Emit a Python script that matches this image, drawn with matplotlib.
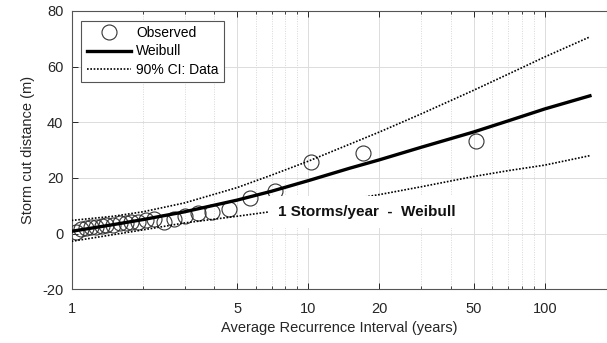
import numpy as np
import matplotlib
matplotlib.use('Agg')
import matplotlib.pyplot as plt
from matplotlib.ticker import FixedLocator, NullFormatter

plt.rcParams['font.family'] = ['Liberation Sans', 'DejaVu Sans']
plt.rcParams['axes.unicode_minus'] = False

# observed storm cut (recurrence interval in years, distance in m)
obs_T = [1.04, 1.10, 1.15, 1.21, 1.27, 1.34, 1.40, 1.50, 1.60, 1.69, 1.79, 1.91,
         2.07, 2.22, 2.46, 2.70, 3.0, 3.42, 3.92, 4.62, 5.66, 7.27, 10.3, 17.0, 51.0]
obs_y = [0.7, 1.5, 1.9, 2.3, 2.5, 2.7, 3.0, 3.1, 3.7, 3.9, 4.1, 4.1,
         4.9, 5.1, 4.3, 5.1, 6.3, 7.5, 7.6, 8.7, 12.8, 15.2, 25.6, 28.9, 33.1]

# fitted Weibull curve
fit_T = [1, 1.5, 2, 3, 5, 7, 10, 15, 20, 30, 50, 70, 100, 155]
fit_y = [0.8, 3.2, 5.0, 7.8, 12.0, 15.2, 19.0, 23.5, 26.5, 31.0, 36.5, 40.5, 44.8, 49.5]

# 90% confidence interval
ci_T = [1, 1.5, 2, 3, 5, 7, 10, 20, 30, 50, 70, 100, 155]
ci_up = [4.7, 6.2, 7.8, 11.0, 16.5, 21.0, 26.0, 36.5, 43.0, 51.5, 57.3, 63.5, 70.7]
ci_lo = [-2.8, -0.4, 1.3, 3.8, 6.2, 7.9, 9.8, 14.0, 16.8, 20.5, 22.6, 24.6, 28.0]

xticks = [1, 5, 10, 20, 50, 100]
yticks = [-20, 0, 20, 40, 60, 80]

fig = plt.figure(figsize=(6.07, 3.43), dpi=100)
ax = fig.add_axes([0.118, 0.157, 0.882, 0.811])

dark = '#262626'
ax.plot(obs_T, obs_y, 'o', mfc='none', mec='#333333', ms=10.8, mew=0.8,
        label='Observed', zorder=3)
ax.plot(fit_T, fit_y, '-', color='k', lw=2.4, label='Weibull', zorder=4)
ax.plot(ci_T, ci_up, color='k', lw=1.2, ls=(0, (1, 1)), label='90% CI: Data', zorder=4)
ax.plot(ci_T, ci_lo, color='k', lw=1.2, ls=(0, (1, 1)), zorder=4)

ax.text(7.45, 7.8, '1 Storms/year  -  Weibull', fontsize=11, fontweight='bold',
        ha='left', va='center', zorder=10, color='#111111',
        bbox=dict(boxstyle='square,pad=0.6', fc='white', ec='none'))

ax.set_xscale('log')
ax.set_xlim(1, 183)
ax.set_ylim(-20, 80)
ax.xaxis.set_major_locator(FixedLocator(xticks))
ax.set_xticklabels([str(t) for t in xticks])
minor = [m * d for d in [1, 10, 100] for m in range(2, 10) if m * d not in xticks and m * d < 183]
ax.xaxis.set_minor_locator(FixedLocator(minor))
ax.xaxis.set_minor_formatter(NullFormatter())
ax.set_yticks(yticks)

ax.grid(True, which='major', color='#dcdcdc', lw=0.7)
ax.grid(True, which='minor', axis='x', color='#d8d8d8', lw=0.7, ls=(0, (1, 1.5)))
ax.set_axisbelow(True)

ax.tick_params(which='both', direction='in', top=True, right=False, colors=dark,
               labelsize=10.5)
ax.tick_params(which='major', length=4, width=0.7)
ax.tick_params(axis='x', which='major', pad=9)
ax.tick_params(axis='y', which='major', pad=6)
ax.tick_params(which='minor', length=2, width=0.6)
for s in ['left', 'bottom', 'top']:
    ax.spines[s].set_color('#555555')
    ax.spines[s].set_linewidth(0.8)
ax.spines['right'].set_visible(False)

ax.set_xlabel('Average Recurrence Interval (years)', fontsize=10.5, color=dark, labelpad=4)
ax.set_ylabel('Storm cut distance (m)', fontsize=10.5, color=dark, labelpad=5)

leg = ax.legend(loc='upper left', fontsize=10, fancybox=False, framealpha=1,
                edgecolor='#555555', handlelength=3.2, handletextpad=0.35,
                borderpad=0.4, labelspacing=0.3, borderaxespad=0.7)
leg.get_frame().set_linewidth(0.8)

fig.savefig('out.png', dpi=100)
